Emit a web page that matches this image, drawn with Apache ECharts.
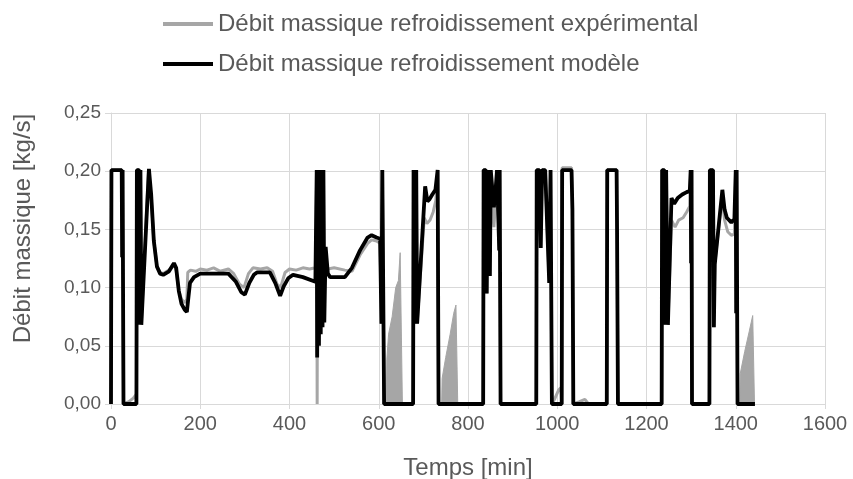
<!DOCTYPE html>
<html>
<head>
<meta charset="utf-8">
<script src="https://cdn.jsdelivr.net/npm/echarts@6/dist/echarts.min.js"></script>
<style>
  html, body { margin: 0; padding: 0; background: #fff; }
  #chart { width: 853px; height: 479px; }
</style>
</head>
<body>
<div id="chart"></div>
<script>
// [temps (min), débit (kg/s)]
const modelData = [
  [0,0],[1,0.201],[24,0.201],[25,0.126],[26,0.201],[27,0.201],[28,0],
  [57,0],[58,0.201],[63,0.201],[65,0.068],[66,0.201],[67,0.201],[68,0.068],
  [85,0.202],[90,0.18],[96,0.14],[103,0.118],[110,0.112],[117,0.111],[130,0.114],[141,0.121],
  [146,0.117],[152,0.097],[158,0.086],[165,0.081],[170,0.079],[173,0.09],[177,0.104],[186,0.109],
  [200,0.112],[230,0.112],[263,0.112],[280,0.105],[292,0.096],[300,0.094],[310,0.104],[320,0.111],
  [327,0.113],[356,0.113],[368,0.104],[379,0.093],[387,0.101],[397,0.108],[408,0.111],[430,0.109],
  [458,0.105],[461,0.201],[462,0.04],[464,0.201],[466,0.05],[468,0.201],[470,0.06],[472,0.201],
  [474,0.066],[476,0.201],[478,0.07],[481,0.135],[486,0.112],[491,0.109],[524,0.109],[540,0.117],
  [558,0.132],[575,0.143],[584,0.145],[595,0.143],[603,0.142],[606,0.069],[608,0.201],[611,0.201],[612,0],
  [677,0],[678,0.201],[681,0.201],[682,0.069],[684,0.201],[685,0.201],[686,0.069],[704,0.187],
  [709,0.174],[714,0.176],[720,0.18],[727,0.184],[732,0.201],[734,0],
  [834,0],[835,0.201],[840,0.201],[842,0.095],[844,0.201],[847,0.201],[849,0.11],[851,0.201],
  [854,0.201],[858,0.169],[862,0.185],[865,0.201],[869,0.201],[870,0.132],[871,0.201],[873,0],
  [953,0],[954,0.201],[960,0.201],[963,0.134],[966,0.201],[973,0.201],[982,0.104],[985,0.201],[987,0.201],[988,0],
  [1010,0],[1011,0.201],[1032,0.201],[1034,0.167],[1036,0],
  [1111,0],[1112,0.201],[1133,0.201],[1134,0.152],[1136,0],
  [1234,0],[1235,0.201],[1240,0.201],[1242,0.068],[1244,0.201],[1246,0.201],[1248,0.068],[1256,0.177],
  [1262,0.172],[1270,0.177],[1280,0.18],[1290,0.182],[1297,0.183],[1299,0.201],[1300,0.121],[1301,0.201],[1302,0],
  [1341,0],[1342,0.201],[1349,0.201],[1351,0.066],[1353,0.12],[1370,0.184],[1375,0.167],[1380,0.16],
  [1390,0.156],[1397,0.159],[1400,0.201],[1401,0.078],[1402,0.201],[1404,0],[1443,0]
];

const expData = [
  [0,0],[1,0.201],[24,0.201],[25,0.126],[26,0.201],[27,0.201],[28,0],[40,0.002],[50,0.005],[56,0.008],
  [57,0],[58,0.201],[63,0.201],[65,0.07],[66,0.201],[67,0.201],[68,0.07],[84,0.2],[90,0.178],[96,0.14],
  [103,0.118],[110,0.113],[117,0.112],[130,0.115],[141,0.12],[146,0.115],[152,0.097],[158,0.09],
  [165,0.087],[170,0.09],[172,0.113],[178,0.115],[190,0.114],[200,0.116],[215,0.115],[230,0.117],
  [245,0.114],[263,0.116],[275,0.112],[288,0.103],[298,0.1],[308,0.112],[318,0.117],[335,0.116],
  [350,0.117],[362,0.114],[372,0.103],[380,0.1],[390,0.113],[400,0.116],[415,0.115],[430,0.117],
  [445,0.116],[458,0.117],[461,0.201],[462,0],[463,0.201],[466,0.1],[468,0.201],[470,0.08],[472,0.201],
  [474,0.1],[476,0.201],[478,0.1],[481,0.12],[486,0.116],[500,0.117],[524,0.115],[540,0.114],
  [558,0.128],[575,0.138],[584,0.141],[595,0.14],[603,0.138],[606,0.069],[608,0.201],[611,0.201],[612,0],
  [677,0],[678,0.201],[681,0.201],[682,0.069],[684,0.201],[685,0.201],[686,0.069],[702,0.16],
  [708,0.155],[715,0.158],[722,0.165],[728,0.175],[732,0.201],[734,0],
  [834,0],[835,0.201],[840,0.201],[842,0.095],[844,0.201],[847,0.201],[849,0.11],[851,0.201],
  [854,0.17],[858,0.152],[862,0.175],[865,0.201],[869,0.201],[870,0.132],[871,0.201],[873,0],
  [953,0],[954,0.201],[960,0.201],[963,0.134],[966,0.201],[973,0.201],[982,0.104],[985,0.201],[987,0.201],[988,0],
  [995,0.005],[1003,0.012],[1008,0.014],[1010,0],[1011,0.203],[1032,0.203],[1034,0.167],[1036,0],
  [1050,0.002],[1062,0.004],[1070,0],[1111,0],[1112,0.201],[1133,0.201],[1134,0.152],[1136,0],
  [1234,0],[1235,0.201],[1240,0.201],[1242,0.068],[1244,0.201],[1246,0.201],[1248,0.068],[1256,0.158],
  [1264,0.152],[1272,0.158],[1282,0.16],[1290,0.165],[1297,0.17],[1299,0.201],[1300,0.121],[1301,0.201],[1302,0],
  [1341,0],[1342,0.201],[1349,0.201],[1351,0.066],[1353,0.12],[1369,0.178],[1375,0.158],[1382,0.148],
  [1390,0.145],[1397,0.146],[1400,0.201],[1401,0.078],[1402,0.201],[1404,0],[1443,0]
];

// zones où la mesure oscille très vite (remplies en gris)
const expBand1 = [[617,0],[618,0.038],[622,0.06],[630,0.075],[638,0.1],[644,0.106],[648,0.13],[652,0.13],[653,0]];
const expBand2 = [[741,0],[742,0.022],[750,0.04],[760,0.06],[768,0.078],[773,0.085],[776,0.085],[777,0]];
const expBand3 = [[1409,0],[1410,0.026],[1420,0.045],[1430,0.062],[1438,0.076],[1441,0.076],[1442,0]];

const nameExp = 'Débit massique refroidissement expérimental';
const nameModel = 'Débit massique refroidissement modèle';

const grey = '#a6a6a6';
const textColor = '#595959';
const gridColor = '#d9d9d9';
const font = 'Liberation Sans, Arial, sans-serif';

const chart = echarts.init(document.getElementById('chart'));

const bandSeries = [expBand1, expBand2, expBand3].map(function (band) {
  return {
    name: nameExp,
    type: 'line',
    data: band,
    symbol: 'none',
    silent: true,
    lineStyle: { color: grey, width: 1 },
    itemStyle: { color: grey },
    areaStyle: { color: grey, opacity: 1 },
    z: 2
  };
});

const option = {
  animation: false,
  textStyle: { fontFamily: font },
  legend: {
    orient: 'vertical',
    left: 163,
    top: 11,
    padding: 0,
    itemWidth: 50,
    itemHeight: 4,
    itemGap: 14,
    icon: 'rect',
    data: [nameExp, nameModel],
    textStyle: { fontSize: 24, color: textColor, lineHeight: 26, fontFamily: font }
  },
  grid: { left: 111, right: 28, top: 113, bottom: 75, outerBoundsMode: 'none', containLabel: false },
  xAxis: {
    type: 'value',
    min: 0,
    max: 1600,
    interval: 200,
    name: 'Temps [min]',
    nameLocation: 'middle',
    nameGap: 52,
    nameTextStyle: { fontSize: 24, color: textColor, fontFamily: font },
    axisLine: { show: true, lineStyle: { color: gridColor } },
    axisTick: { show: true, length: 5, lineStyle: { color: gridColor } },
    axisLabel: {
      fontSize: 20,
      color: textColor,
      margin: 10,
      fontFamily: font,
      formatter: function (v) { return String(v); }
    },
    splitLine: { show: true, lineStyle: { color: gridColor, width: 1 } }
  },
  yAxis: {
    type: 'value',
    min: 0,
    max: 0.25,
    interval: 0.05,
    name: 'Débit massique [kg/s]',
    nameLocation: 'middle',
    nameGap: 76,
    nameTextStyle: { fontSize: 24, color: textColor, fontFamily: font, padding: [0, 0, 0, 60] },
    axisLine: { show: true, lineStyle: { color: gridColor } },
    axisTick: { show: true, length: 6, lineStyle: { color: gridColor } },
    axisLabel: {
      fontSize: 19,
      color: textColor,
      margin: 10,
      fontFamily: font,
      formatter: function (v) { return v.toFixed(2).replace('.', ','); }
    },
    splitLine: { show: true, lineStyle: { color: gridColor, width: 1 } }
  },
  series: [
    {
      name: nameExp,
      type: 'line',
      data: expData,
      symbol: 'none',
      lineStyle: { color: grey, width: 3 },
      itemStyle: { color: grey },
      z: 2
    }
  ].concat(bandSeries, [
    {
      name: nameModel,
      type: 'line',
      data: modelData,
      symbol: 'none',
      lineStyle: { color: '#000000', width: 3.8 },
      itemStyle: { color: '#000000' },
      z: 3
    }
  ])
};

chart.setOption(option);
</script>
</body>
</html>
